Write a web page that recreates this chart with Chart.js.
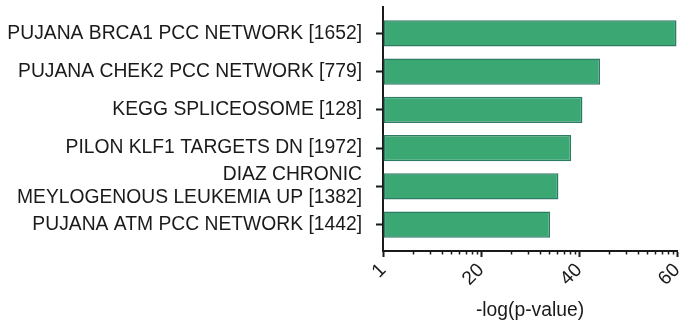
<!DOCTYPE html>
<html lang="en">
<head>
<meta charset="UTF-8">
<title>Gene set enrichment</title>
<script src="https://cdn.jsdelivr.net/npm/chart.js@4.4.0/dist/chart.umd.min.js"></script>
<style>
  * { margin:0; padding:0; box-sizing:border-box; }
  body { background:#fff; width:687px; height:326px; overflow:hidden; }
  #wrap { position:relative; width:687px; height:326px; }
</style>
</head>
<body>
<div id="wrap"><canvas id="chart" width="687" height="326"></canvas></div>

<script>
// data
const categories = [
  'PUJANA BRCA1 PCC NETWORK [1652]',
  'PUJANA CHEK2 PCC NETWORK [779]',
  'KEGG SPLICEOSOME [128]',
  'PILON KLF1 TARGETS DN [1972]',
  'DIAZ CHRONIC\nMEYLOGENOUS LEUKEMIA UP [1382]',
  'PUJANA ATM PCC NETWORK [1442]'
];
const negLogP = [59.9, 44.3, 40.7, 38.4, 35.8, 34.1];
const xTickValues = [0, 20, 40, 60];
const xTickLabels = ['1', '20', '40', '60'];
// minor ticks inside each 20-wide segment, log spaced (2..9)
const minorSteps = [2, 3, 4, 5, 6, 7, 8, 9];

const ink = '#1a1a1a';
const font = { family:"'Liberation Sans', Arial, sans-serif", size:19.3, lineHeight:1.18 };

const minorTicks = {
  id:'minorTicks',
  afterDraw(chart) {
    const sx = chart.scales.x, ctx = chart.ctx;
    const y0 = chart.chartArea.bottom;
    ctx.save();
    ctx.strokeStyle = ink; ctx.lineWidth = 1.5;
    for (let k = 0; k < xTickValues.length - 1; k++) {
      const a = xTickValues[k], w = xTickValues[k+1] - a;
      minorSteps.forEach(m => {
        const px = Math.round(sx.getPixelForValue(a + w * Math.log10(m))) + 0.5;
        ctx.beginPath(); ctx.moveTo(px, y0); ctx.lineTo(px, y0 + 3.5); ctx.stroke();
      });
    }
    ctx.restore();
  }
};

new Chart(document.getElementById('chart').getContext('2d'), {
  type:'bar',
  data:{
    datasets:[{
      data: negLogP.map((v, i) => ({ x:v, y:i })),
      backgroundColor:'#3ba773',
      borderColor:'#2d7a66',
      borderWidth:1.6,
      borderSkipped:false,
      categoryPercentage:0.69,
      barPercentage:1
    }]
  },
  options:{
    indexAxis:'y',
    responsive:false,
    animation:false,
    events:[],
    layout:{ padding:{ top:7, right:10, left:0, bottom:0 } },
    plugins:{ legend:{ display:false }, tooltip:{ enabled:false } },
    scales:{
      y:{
        type:'linear',
        reverse:true,
        offset:false,
        min:-0.69, max:5.69,
        afterBuildTicks(s) { s.ticks = categories.map((_, i) => ({ value:i })); },
        afterFit(s) { s.width = 383; s.paddingTop = 0; s.paddingBottom = 0; },
        ticks:{
          color:ink, font, padding:14, autoSkip:false,
          callback:(v) => categories[v] ? categories[v].split('\n') : ''
        },
        grid:{ drawOnChartArea:false, offset:false, tickLength:7, tickColor:ink, tickWidth:2 },
        border:{ color:ink, width:2 }
      },
      x:{
        type:'linear',
        min:0, max:60,
        afterBuildTicks(s) { s.ticks = xTickValues.map(v => ({ value:v })); },
        afterFit(s) { s.height = 326 - 251; s.paddingLeft = 0; s.paddingRight = 0; },
        ticks:{
          color:ink, font, minRotation:45, maxRotation:45, padding:2, autoSkip:false,
          callback:(v) => xTickLabels[xTickValues.indexOf(v)]
        },
        grid:{ drawOnChartArea:false, tickLength:6, tickColor:ink, tickWidth:2 },
        border:{ color:ink, width:2 },
        title:{ display:true, text:'-log(p-value)', color:ink, font, padding:{ top:4, bottom:4 } }
      }
    }
  },
  plugins:[minorTicks]
});
</script>
</body>
</html>
